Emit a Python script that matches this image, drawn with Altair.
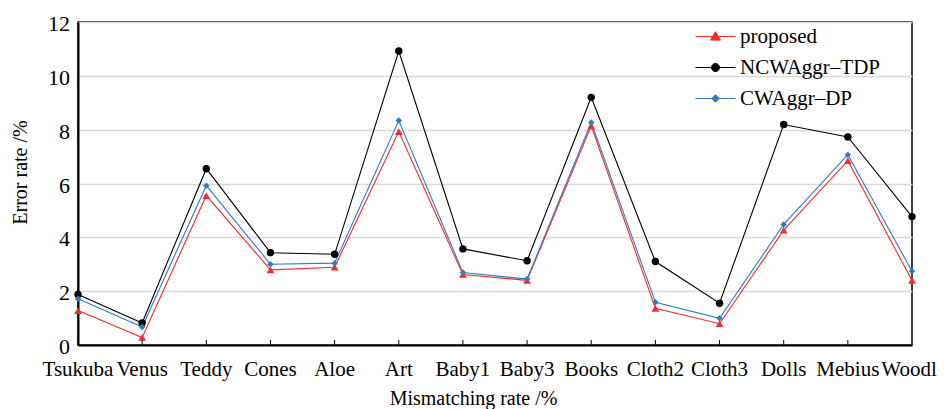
import altair as alt
import pandas as pd

categories = ["Tsukuba", "Venus", "Teddy", "Cones", "Aloe", "Art", "Baby1",
              "Baby3", "Books", "Cloth2", "Cloth3", "Dolls", "Mebius", "Woodl"]
series_names = ["proposed", "NCWAggr\u2013TDP", "CWAggr\u2013DP"]
proposed = [1.28, 0.28, 5.55, 2.79, 2.89, 7.93, 2.62, 2.40, 8.14, 1.36, 0.79, 4.27, 6.85, 2.40]
ncwaggr_tdp = [1.88, 0.82, 6.55, 3.43, 3.37, 10.92, 3.57, 3.13, 9.20, 3.10, 1.55, 8.19, 7.73, 4.77]
cwaggr_dp = [1.72, 0.67, 5.92, 3.00, 3.04, 8.34, 2.69, 2.45, 8.27, 1.59, 0.99, 4.48, 7.07, 2.74]
y_ticks = [0, 2, 4, 6, 8, 10, 12]

colors = ["#f52a2a", "#000000", "#2f7cc0"]
marker_shapes = ["triangle-up", "circle", "diamond"]
legend_paths = [
    "M-1,0L1,0M0,-0.24L0.25,0.18L-0.25,0.18Z",
    "M-1,0L1,0M0.2,0A0.2,0.2 0 1,1 -0.2,0A0.2,0.2 0 1,1 0.2,0Z",
    "M-1,0L1,0M0,-0.19L0.19,0L0,0.19L-0.19,0Z",
]
marker_sizes = [60, 55, 42]

rows = []
for name, vals in zip(series_names, [proposed, ncwaggr_tdp, cwaggr_dp]):
    for c, v in zip(categories, vals):
        rows.append({"category": c, "series": name, "value": v})
df = pd.DataFrame(rows)

FONT = "Liberation Serif"
W, H = 834, 323

xscale = alt.Scale(type="point", padding=0)
yscale = alt.Scale(domain=[0, 12], nice=False)

x_enc = alt.X("category:N", sort=categories, scale=xscale,
              axis=alt.Axis(title="Mismatching rate /%", ticks=False, labels=False,
                            titleFont=FONT, titleFontSize=20, titleFontWeight="normal",
                            titleX=395, titleY=53, titleBaseline="middle",
                            domainColor="black", domainWidth=2, grid=False))
y_enc = alt.Y("value:Q", scale=yscale,
              axis=alt.Axis(title="Error rate /%", values=y_ticks, ticks=False,
                            labels=False, titleFont=FONT, titleFontSize=20,
                            titleFontWeight="normal", titleX=-58, titleY=150,
                            titleAlign="center", titleBaseline="middle",
                            domainColor="black", domainWidth=2,
                            grid=True, gridColor="#d9d9d9", gridWidth=1.5))

cscale = alt.Scale(domain=series_names, range=colors)
order_draw = [1, 0, 2]

leg = alt.Legend(title=None, orient="none", legendX=617, legendY=-6,
                 labelFont=FONT, labelFontSize=21, symbolSize=1600,
                 symbolStrokeWidth=1, symbolOpacity=1, labelOffset=4,
                 rowPadding=-13, labelColor="black")

layers = []
legend_layer = alt.Chart(df).mark_point(filled=False, opacity=0, strokeWidth=1).encode(
    x=x_enc, y=y_enc,
    color=alt.Color("series:N", scale=cscale, legend=leg, sort=series_names),
    fill=alt.Fill("series:N", scale=alt.Scale(domain=series_names, range=colors),
                  legend=leg, sort=series_names),
    shape=alt.Shape("series:N", scale=alt.Scale(domain=series_names, range=legend_paths),
                    legend=leg, sort=series_names),
)
layers.append(legend_layer)

for i in order_draw:
    sub = df[df.series == series_names[i]]
    layers.append(
        alt.Chart(sub).mark_line(strokeWidth=1.1).encode(
            x=x_enc, y=y_enc,
            color=alt.Color("series:N", scale=cscale, sort=series_names))
    )
for i in order_draw:
    sub = df[df.series == series_names[i]]
    layers.append(
        alt.Chart(sub).mark_point(filled=True, opacity=1, shape=marker_shapes[i],
                                  size=marker_sizes[i]).encode(
            x=x_enc, y=y_enc,
            color=alt.Color("series:N", scale=cscale, sort=series_names))
    )

cat_df = pd.DataFrame({"category": categories})
ticks = alt.Chart(cat_df.iloc[1:-1]).mark_rule(color="black", strokeWidth=1).encode(
    x=alt.X("category:N", sort=categories, scale=xscale),
    y=alt.value(H - 5), y2=alt.value(H))
layers.append(ticks)

x_labels = alt.Chart(cat_df.iloc[:-1]).mark_text(
    font=FONT, fontSize=21, color="black", align="center", baseline="alphabetic"
).encode(
    x=alt.X("category:N", sort=categories, scale=xscale),
    y=alt.value(H + 31), text="category:N")
layers.append(x_labels)

x_label_last = alt.Chart(cat_df.iloc[-1:]).mark_text(
    font=FONT, fontSize=21, color="black", align="center", baseline="alphabetic", dx=-3
).encode(
    x=alt.X("category:N", sort=categories, scale=xscale),
    y=alt.value(H + 31), text="category:N")
layers.append(x_label_last)

y_labels = alt.Chart(pd.DataFrame({"value": y_ticks})).mark_text(
    font=FONT, fontSize=22, color="black", align="right", baseline="middle", dy=2
).encode(
    y=alt.Y("value:Q", scale=yscale),
    x=alt.value(-8), text="value:Q")
layers.append(y_labels)

chart = alt.layer(*layers).properties(
    width=W, height=H,
    padding={"left": 70, "top": 14, "right": 25, "bottom": 64},
    autosize=alt.AutoSizeParams(type="none"),
).configure(font=FONT).configure_view(stroke="black", strokeWidth=1.5).configure_axis(
    labelFont=FONT, titleFont=FONT, labelColor="black", titleColor="black"
).configure_legend(labelFont=FONT)

chart.save("out.html", embed_options={"renderer": "svg", "actions": False})
